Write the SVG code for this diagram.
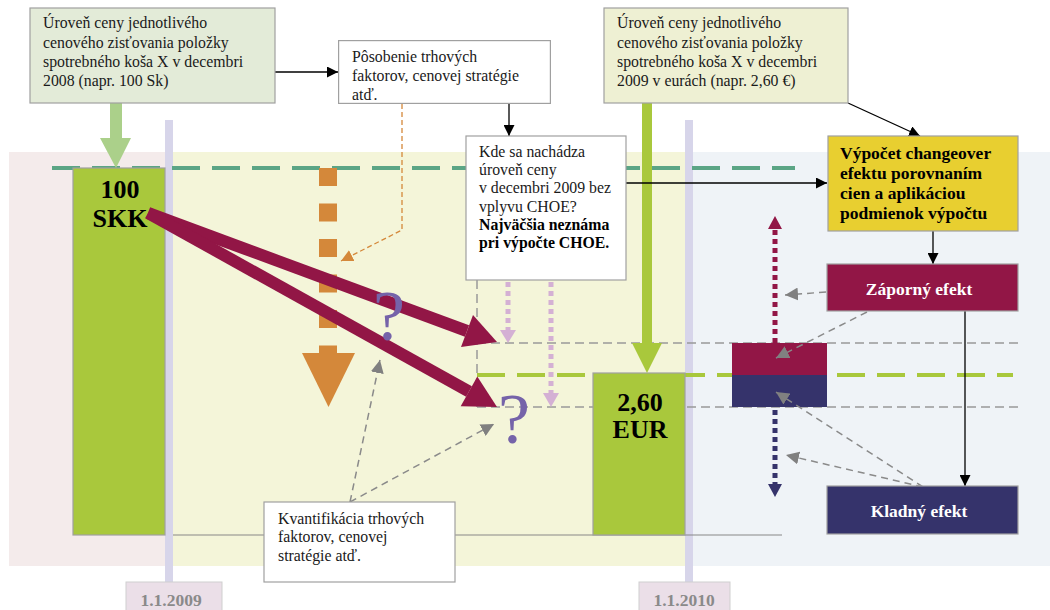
<svg xmlns="http://www.w3.org/2000/svg" width="1050" height="610" viewBox="0 0 1050 610">
  <style>
    .t { font-family: "Liberation Serif", "Times New Roman", serif; font-size: 15.8px; fill: #1a1a1a; }
    .tb { font-family: "Liberation Serif", "Times New Roman", serif; font-weight: bold; fill: #000; }
    .w { font-family: "Liberation Serif", "Times New Roman", serif; font-weight: bold; font-size: 17.5px; fill: #fff; }
    .box { stroke: #a0a0a0; stroke-width: 1.2; }
    .gdash { stroke: #8a8a8a; stroke-width: 1.5; stroke-dasharray: 7 5; fill: none; }
    .hdash { stroke: #999; stroke-width: 1.5; stroke-dasharray: 9 5; fill: none; }
    .blk { stroke: #000; stroke-width: 1.3; fill: none; }
    .q { font-family: "Liberation Serif", "Times New Roman", serif; font-size: 72px; fill: #7563a9; }
    .date { font-family: "Liberation Serif", "Times New Roman", serif; font-weight: bold; font-size: 17.5px; fill: #8a8a8a; }
  </style>
  <defs>
    <marker id="ah-black" viewBox="0 0 10 10" refX="10" refY="5" markerWidth="11" markerHeight="11" markerUnits="userSpaceOnUse" orient="auto">
      <path d="M0,0 L10,5 L0,10 Z" fill="#000"/>
    </marker>
    <marker id="ah-gray" viewBox="0 0 10 10" refX="10" refY="5" markerWidth="13" markerHeight="13" markerUnits="userSpaceOnUse" orient="auto">
      <path d="M0,0 L10,5 L0,10 Z" fill="#808080"/>
    </marker>
    <marker id="ah-orange" viewBox="0 0 10 10" refX="10" refY="5" markerWidth="12" markerHeight="12" markerUnits="userSpaceOnUse" orient="auto">
      <path d="M0,0 L10,5 L0,10 Z" fill="#d4883a"/>
    </marker>
  </defs>

  <!-- background bands -->
  <g id="background">
    <rect x="0" y="0" width="1050" height="610" fill="#fff"/>
    <rect x="9" y="152" width="160" height="414" fill="#f4ebeb"/>
    <rect x="169" y="152" width="520" height="414" fill="#f4f5d9"/>
    <rect x="689" y="152" width="361" height="414" fill="#eff3f7"/>
  </g>

  <!-- time axis -->
  <g id="axis">
    <rect x="165" y="120" width="8" height="462" fill="#d7d5ea"/>
    <rect x="685" y="120" width="8" height="462" fill="#d7d5ea"/>
    <line x1="173" y1="535" x2="782" y2="535" stroke="#888" stroke-width="1.2"/>
  </g>

  <!-- reference levels -->
  <g id="levels">
    <line x1="52" y1="168" x2="795" y2="168" stroke="#5ba585" stroke-width="4" stroke-dasharray="28 12"/>
    <path class="hdash" d="M477,280 V407"/>
    <line class="hdash" x1="477" y1="343" x2="1018" y2="343"/>
    <line class="hdash" x1="477" y1="407" x2="1018" y2="407"/>
    <line x1="477" y1="375" x2="1013" y2="375" stroke="#a9c83c" stroke-width="4" stroke-dasharray="28 12"/>
  </g>

  <!-- price columns -->
  <g id="col-2008">
    <rect x="73" y="168" width="92" height="367" fill="#a9c83c" stroke="#a0a0a0" stroke-width="1.2"/>
    <text class="tb" font-size="26" x="120" y="198" text-anchor="middle">100</text>
    <text class="tb" font-size="26" x="120" y="227" text-anchor="middle">SKK</text>
  </g>
  <g id="col-2010">
    <rect x="593" y="373" width="92" height="162" fill="#a9c83c" stroke="#a0a0a0" stroke-width="1.2"/>
    <text class="tb" font-size="26" x="640" y="411" text-anchor="middle">2,60</text>
    <text class="tb" font-size="26" x="640" y="438" text-anchor="middle">EUR</text>
  </g>

  <!-- effect bars -->
  <g id="effect-bars">
    <rect x="732" y="343" width="95" height="32" fill="#921646"/>
    <rect x="732" y="375" width="95" height="32" fill="#35336b"/>
  </g>

  <!-- connectors -->
  <g id="connectors">
    <!-- level arrows into columns -->
    <rect x="110" y="103" width="12" height="36" fill="#abd08a"/>
    <polygon points="100,138 131,138 116,168" fill="#abd08a"/>
    <rect x="642" y="103" width="10" height="241" fill="#a9c83c"/>
    <polygon points="632,343 662,343 647,373" fill="#a9c83c"/>

    <!-- market factors trend -->
    <line x1="328" y1="168" x2="328" y2="353" stroke="#d4883a" stroke-width="18" stroke-dasharray="18 17.5"/>
    <polygon points="302,353 355,353 328.5,407" fill="#d4883a"/>
    <path d="M402,104 V230 L341,261" stroke="#d4883a" stroke-width="1.3" stroke-dasharray="5 3" fill="none" marker-end="url(#ah-orange)"/>

    <!-- price path arrows -->
    <line x1="148" y1="213" x2="467" y2="331" stroke="#921646" stroke-width="12"/>
    <polygon points="461,347 473,315 497,342" fill="#921646"/>
    <line x1="148" y1="213" x2="469" y2="391.4" stroke="#921646" stroke-width="12"/>
    <polygon points="460.7,406.3 477.3,376.5 497,407" fill="#921646"/>

    <!-- pink dotted arrows -->
    <line x1="508" y1="282" x2="508" y2="330" stroke="#d4b0d4" stroke-width="5" stroke-dasharray="5 4"/>
    <polygon points="500,330 516,330 508,343" fill="#d4b0d4"/>
    <line x1="551" y1="282" x2="551" y2="394" stroke="#d4b0d4" stroke-width="5" stroke-dasharray="5 4"/>
    <polygon points="543,393 559,393 551,407" fill="#d4b0d4"/>

    <!-- effect direction arrows -->
    <line x1="775" y1="343" x2="775" y2="228" stroke="#921646" stroke-width="5" stroke-dasharray="5 4"/>
    <polygon points="768,229 782,229 775,216" fill="#921646"/>
    <line x1="775" y1="410" x2="775" y2="484" stroke="#35336b" stroke-width="5" stroke-dasharray="5 4"/>
    <polygon points="768,484 782,484 775,497" fill="#35336b"/>

    <!-- black flow arrows -->
    <line class="blk" x1="275" y1="72" x2="338" y2="72" marker-end="url(#ah-black)"/>
    <line class="blk" x1="509" y1="104" x2="509" y2="136" marker-end="url(#ah-black)"/>
    <line class="blk" x1="626" y1="183" x2="827" y2="183" marker-end="url(#ah-black)"/>
    <line class="blk" x1="848" y1="103" x2="920" y2="136" marker-end="url(#ah-black)"/>
    <line class="blk" x1="933" y1="231" x2="933" y2="264" marker-end="url(#ah-black)"/>
    <line class="blk" x1="965" y1="311" x2="965" y2="486" marker-end="url(#ah-black)"/>

    <!-- gray dashed pointers -->
    <line class="gdash" x1="350" y1="502" x2="380" y2="360" marker-end="url(#ah-gray)"/>
    <line class="gdash" x1="350" y1="502" x2="494" y2="424" marker-end="url(#ah-gray)"/>
    <line class="gdash" x1="826" y1="292" x2="785" y2="295" marker-end="url(#ah-gray)"/>
    <line class="gdash" x1="867" y1="312" x2="776" y2="358" marker-end="url(#ah-gray)"/>
    <line class="gdash" x1="923" y1="487" x2="776" y2="392" marker-end="url(#ah-gray)"/>
    <line class="gdash" x1="923" y1="487" x2="786" y2="455" marker-end="url(#ah-gray)"/>
  </g>

  <!-- question marks -->
  <g id="unknowns">
    <text class="q" x="389" y="340" text-anchor="middle">?</text>
    <text class="q" x="514" y="443" text-anchor="middle">?</text>
  </g>

  <!-- nodes -->
  <g id="price-2008">
    <rect class="box" x="30" y="8" width="245" height="95" fill="#e3ebd8"/>
    <text class="t" x="43" y="28">Úroveň ceny jednotlivého</text>
    <text class="t" x="43" y="48">cenového zisťovania položky</text>
    <text class="t" x="43" y="67">spotrebného koša X v decembri</text>
    <text class="t" x="43" y="86">2008 (napr. 100 Sk)</text>
  </g>

  <g id="market-factors">
    <svg x="338" y="40" width="213" height="64" overflow="hidden">
      <rect class="box" x="0.6" y="0.6" width="211.8" height="62.8" fill="#fff"/>
      <text class="t" x="14" y="22" font-size="14.8">Pôsobenie trhových</text>
      <text class="t" x="14" y="41" font-size="14.8">faktorov, cenovej stratégie</text>
      <text class="t" x="14" y="60" font-size="14.8">atď.</text>
    </svg>
  </g>

  <g id="question-box">
    <rect class="box" x="466" y="136" width="160" height="144" fill="#fff"/>
    <text class="t" x="479" y="157">Kde sa nachádza</text>
    <text class="t" x="479" y="175">úroveň ceny</text>
    <text class="t" x="479" y="193">v decembri 2009 bez</text>
    <text class="t" x="479" y="212">vplyvu CHOE?</text>
    <text class="tb" font-size="15.8" x="479" y="230">Najväčšia neznáma</text>
    <text class="tb" font-size="15.8" x="479" y="248">pri výpočte CHOE.</text>
  </g>

  <g id="price-2009">
    <rect class="box" x="604" y="8" width="244" height="95" fill="#eef0d3"/>
    <text class="t" x="617" y="28">Úroveň ceny jednotlivého</text>
    <text class="t" x="617" y="48">cenového zisťovania položky</text>
    <text class="t" x="617" y="67">spotrebného koša X v decembri</text>
    <text class="t" x="617" y="86">2009 v eurách (napr. 2,60 €)</text>
  </g>

  <g id="calculation">
    <rect class="box" x="828" y="136" width="190" height="95" fill="#e8cf30"/>
    <text class="tb" font-size="17.5" x="840" y="159">Výpočet changeover</text>
    <text class="tb" font-size="17.5" x="840" y="179">efektu porovnaním</text>
    <text class="tb" font-size="17.5" x="840" y="199">cien a aplikáciou</text>
    <text class="tb" font-size="17.5" x="840" y="219">podmienok výpočtu</text>
  </g>

  <g id="negative-effect">
    <rect class="box" x="827" y="264" width="191" height="47" fill="#921646"/>
    <text class="w" x="919" y="295" text-anchor="middle">Záporný efekt</text>
  </g>

  <g id="positive-effect">
    <rect class="box" x="827" y="486" width="191" height="48" fill="#35336b"/>
    <text class="w" x="919" y="517" text-anchor="middle">Kladný efekt</text>
  </g>

  <g id="quantification">
    <rect class="box" x="264" y="502" width="191" height="80" fill="#fff"/>
    <text class="t" x="278" y="524" font-size="14.8">Kvantifikácia trhových</text>
    <text class="t" x="278" y="542" font-size="14.8">faktorov, cenovej</text>
    <text class="t" x="278" y="561" font-size="14.8">stratégie atď.</text>
  </g>

  <g id="date-2009">
    <rect x="126" y="582" width="96" height="32" fill="#ebdfe8" stroke="#cfcfcf" stroke-width="1"/>
    <text class="date" x="171" y="606" text-anchor="middle">1.1.2009</text>
  </g>
  <g id="date-2010">
    <rect x="639" y="582" width="91" height="32" fill="#ebdfe8" stroke="#cfcfcf" stroke-width="1"/>
    <text class="date" x="684" y="606" text-anchor="middle">1.1.2010</text>
  </g>
</svg>
